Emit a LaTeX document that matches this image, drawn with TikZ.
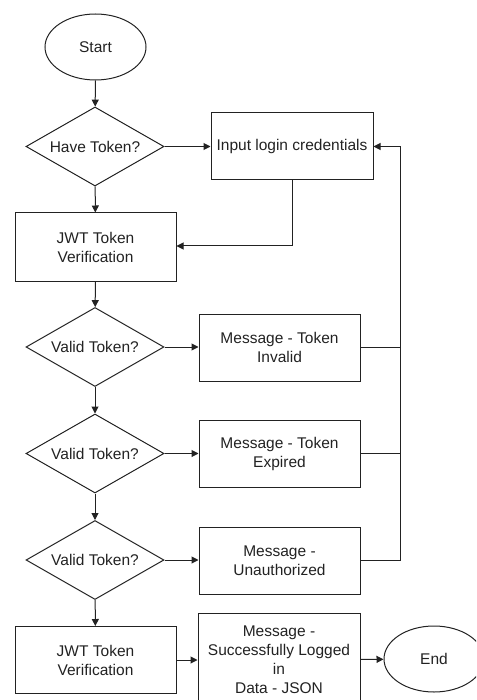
\documentclass[tikz,border=0pt]{standalone}
\usepackage{fontspec}
\setmainfont{Liberation Sans}
\usetikzlibrary{shapes.geometric,arrows.meta}
\definecolor{ink}{HTML}{222222}
\tikzset{
  base/.style={draw=ink, line width=1pt, text=ink, font=\fontsize{15.5}{19}\selectfont, align=center, inner sep=0pt},
  term/.style={base, ellipse, minimum width=101pt, minimum height=66pt},
  decide/.style={base, diamond, shape aspect=1.75, minimum width=138pt, minimum height=79pt},
  procbox/.style={base, rectangle, minimum width=161pt, minimum height=67pt},
  arr/.style={draw=ink, line width=1pt, -{Triangle[length=7pt,width=7pt]}},
  ln/.style={draw=ink, line width=1pt}
}
\begin{document}
\begin{tikzpicture}[x=1pt,y=-1pt]
\useasboundingbox (0,0) rectangle (476,700);
\clip (0,0) rectangle (476,700);
\node[term] (start) at (95.5,47) {Start};
\node[decide] (d1) at (95,146.5) {Have Token?};
\node[procbox, minimum width=162pt] (input) at (292,146.5) {Input login credentials};
\node[procbox, minimum height=68pt] (jwt1) at (95.5,247) {JWT Token\\Verification};
\node[decide] (d2) at (95,347) {Valid Token?};
\node[procbox] (invalid) at (279.5,347.5) {Message - Token\\Invalid};
\node[decide] (d3) at (95,453.5) {Valid Token?};
\node[procbox] (expired) at (279.5,453.7) {Message - Token\\Expired};
\node[decide] (d4) at (95,560) {Valid Token?};
\node[procbox] (unauth) at (279.5,560.5) {Message -\\Unauthorized};
\node[procbox] (jwt2) at (95.5,660) {JWT Token\\Verification};
\node[procbox, minimum width=162pt, minimum height=94pt] (success) at (279,660) {Message -\\Successfully Logged\\in\\Data - JSON};
\node[term, minimum width=100pt, minimum height=66pt] (end) at (434,659) {End};
\coordinate (bus) at (400,560.5);
\coordinate (bend) at (292,246);
\draw[arr] (start) -- (d1);
\draw[arr] (d1) -- (input);
\draw[arr] (d1) -- (jwt1);
\draw[ln] (input.south) -- (bend);
\draw[arr] (bend) -- (bend -| jwt1.east);
\draw[arr] (jwt1) -- (d2);
\draw[arr] (d2) -- (d2 -| invalid.west);
\draw[arr] (d2) -- (d3);
\draw[arr] (d3) -- (d3 -| expired.west);
\draw[arr] (d3) -- (d4);
\draw[arr] (d4) -- (d4 -| unauth.west);
\draw[arr] (d4) -- (jwt2);
\draw[arr] (jwt2) -- (jwt2 -| success.west);
\draw[arr] (success) -- (end);
\draw[arr] (unauth.east) -- (bus) |- (input.east);
\draw[ln] (invalid.east) -- (invalid.east -| bus);
\draw[ln] (expired.east) -- (expired.east -| bus);
\end{tikzpicture}
\end{document}
